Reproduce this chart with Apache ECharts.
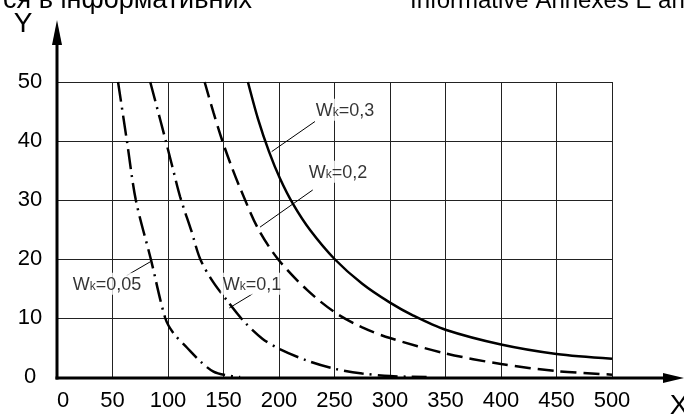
<!DOCTYPE html>
<html>
<head>
<meta charset="utf-8">
<script src="https://cdn.jsdelivr.net/npm/echarts@6/dist/echarts.min.js"></script>
<style>
html,body{margin:0;padding:0;background:#fff;}
#c{width:684px;height:415px;}
</style>
</head>
<body>
<div id="c"></div>
<script>
// ---- data ----
const xTicks = [0, 50, 100, 150, 200, 250, 300, 350, 400, 450, 500];
const yTicks = [0, 10, 20, 30, 40, 50];

const w03 = [[172,50],[181,43.8],[191,38.2],[201,33.6],[213,29.2],[228,24.9],[250,20],[275,15.8],[300,12.6],[321,10.4],[350,8.0],[400,5.5],[450,3.9],[500,3.1]];
const w02 = [[133,50],[141,44.8],[149,40],[157,35.8],[165,32],[181,25.2],[199,20],[225,14.8],[250,11],[275,8.4],[300,6.6],[350,4],[400,2.2],[450,1],[500,0.4]];
const w01 = [[84,50],[93,43.6],[98,40],[104,35.6],[111,30.5],[121,24.8],[129,20],[140,16.3],[153,13.0],[168,9.5],[185,6.5],[200,4.8],[225,2.8],[250,1.4],[275,0.6],[300,0.15],[333,0]];
const w005 = [[55,50],[63,40],[71,30],[84.5,20],[97.5,10],[105,7.4],[117,5],[130,2.5],[141,0.9],[152,0.3],[165,0]];

const labelNames = ['0,3', '0,2', '0,1', '0,05'];
const labelPos = [[259.5,45.3],[253.2,34.8],[175.7,15.8],[45,15.8]];
const leaders = [
  [[232.4,43.3],[193.4,38.2]],
  [[230.4,31.7],[182.9,25.4]],
  [[176.3,14.1],[155.2,11.7]],
  [[62.8,17.2],[83.8,19.5]]
];

const topLeftText = 'ся в інформативних';
const topRightText = 'Informative Annexes E an';

// ---- chart ----
const chart = echarts.init(document.getElementById('c'), null, {renderer:'canvas'});
const FONT = 'Liberation Sans, Arial, sans-serif';

function curve(data, type) {
  return {
    type: 'line', data: data, smooth: 0.3, showSymbol: false, silent: true,
    lineStyle: {color: '#000', width: 2.5, type: type, cap: 'butt'},
    z: 5
  };
}

const series = [
  curve(w03, 'solid'),
  curve(w02, [16, 7]),
  curve(w01, [20, 6, 2, 6]),
  curve(w005, [20, 6, 2, 6])
];
leaders.forEach(function (seg) {
  series.push({
    type: 'line', data: seg, showSymbol: false, silent: true,
    lineStyle: {color: '#000', width: 1}, z: 6
  });
});
series.push({
  type: 'scatter', symbolSize: 0, silent: true, z: 7,
  data: labelPos.map(function (p, i) { return {value: p, name: labelNames[i]}; }),
  label: {
    show: true, position: 'inside',
    formatter: function (p) { return '{w|W}{k|k}{w|=' + p.name + '}'; },
    backgroundColor: '#fff', padding: [1, 2],
    rich: {
      w: {fontSize: 18, fontFamily: FONT, color: '#000', lineHeight: 20, verticalAlign: 'bottom'},
      k: {fontSize: 12, fontFamily: FONT, color: '#000', lineHeight: 20, verticalAlign: 'bottom', padding: [0, 0, 1, 0]}
    }
  }
});

chart.setOption({
  animation: false,
  backgroundColor: '#fff',
  grid: {left: 57, right: 72, top: 82, bottom: 38},
  xAxis: {
    type: 'value', min: xTicks[0], max: xTicks[xTicks.length - 1], interval: 50,
    axisLine: {show: false}, axisTick: {show: false},
    axisLabel: {color: '#000', fontSize: 22, fontFamily: FONT, margin: 13, alignMinLabel: 'left'},
    splitLine: {show: true, lineStyle: {color: '#222', width: 1}}
  },
  yAxis: {
    type: 'value', min: yTicks[0], max: yTicks[yTicks.length - 1], interval: 10,
    axisLine: {show: false}, axisTick: {show: false},
    axisLabel: {color: '#000', fontSize: 22, fontFamily: FONT, margin: 27, align: 'center'},
    splitLine: {show: true, lineStyle: {color: '#222', width: 1}}
  },
  series: series
});

const o = chart.convertToPixel({gridIndex: 0}, [0, 0]);
const ox = o[0], oy = o[1] + 1;
chart.setOption({
  graphic: [
    {type: 'line', shape: {x1: ox, y1: oy + 1.5, x2: ox, y2: 44}, style: {stroke: '#000', lineWidth: 3}, z: 10},
    {type: 'polygon', shape: {points: [[ox - 5, 45], [ox + 5, 45], [ox, 20]]}, style: {fill: '#000'}, z: 10},
    {type: 'line', shape: {x1: ox - 1.5, y1: oy, x2: 664, y2: oy}, style: {stroke: '#000', lineWidth: 3}, z: 10},
    {type: 'polygon', shape: {points: [[663, oy - 5], [663, oy + 5], [684, oy]]}, style: {fill: '#000'}, z: 10},
    {type: 'text', x: 23, y: 24, style: {text: 'Y', font: '28px ' + FONT, fill: '#000', align: 'center', verticalAlign: 'middle'}, z: 10},
    {type: 'text', x: 679, y: 406, style: {text: 'X', font: '28px ' + FONT, fill: '#000', align: 'center', verticalAlign: 'middle'}, z: 10},
    {type: 'text', x: 252, y: 1, style: {text: topLeftText, font: '27px ' + FONT, fill: '#000', align: 'right', verticalAlign: 'middle'}, z: 10},
    {type: 'text', x: 410, y: 1, style: {text: topRightText, font: '24px ' + FONT, fill: '#000', align: 'left', verticalAlign: 'middle'}, z: 10}
  ]
});
</script>
</body>
</html>
